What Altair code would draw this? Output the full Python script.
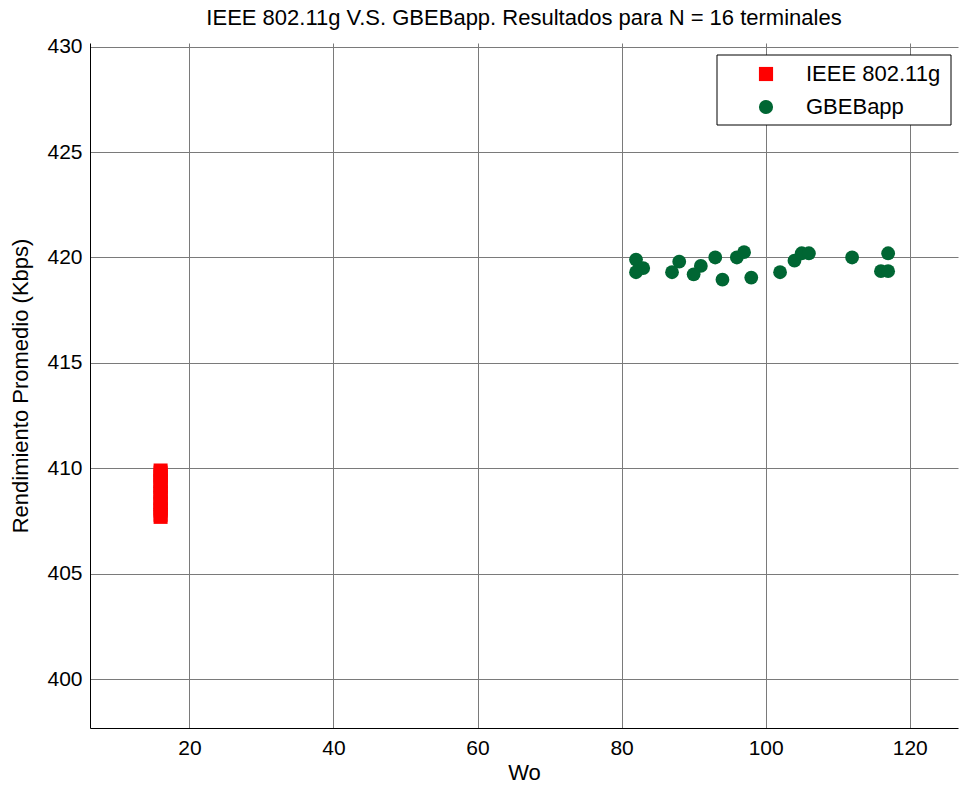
import altair as alt
import pandas as pd

# IEEE 802.11g: stacked squares at Wo = 16
ieee_wo = [16] * 16
ieee_rend = [409.9, 409.4, 409.7, 408.6, 409.1, 407.8, 408.3, 409.6,
             408.0, 408.9, 407.7, 409.2, 408.4, 408.1, 408.8, 409.8]

# GBEBapp points
gbe_wo = [82, 83, 82, 88, 87, 91, 90, 93, 94, 96, 97, 98, 102, 104, 105, 106, 112, 117, 116, 117]
gbe_rend = [419.9, 419.5, 419.3, 419.8, 419.3, 419.6, 419.2, 420.0, 418.95, 420.0,
            420.25, 419.05, 419.3, 419.85, 420.2, 420.2, 420.0, 420.2, 419.35, 419.35]

x_ticks = [20, 40, 60, 80, 100, 120]
y_ticks = [400, 405, 410, 415, 420, 425, 430]

series_names = ["IEEE 802.11g", "GBEBapp"]
series_colors = ["#FF0000", "#006633"]
series_shapes = ["square", "circle"]

df = pd.DataFrame({
    "Wo": ieee_wo + gbe_wo,
    "Rend": ieee_rend + gbe_rend,
    "Serie": [series_names[0]] * len(ieee_wo) + [series_names[1]] * len(gbe_wo),
    "Size": [196] * len(ieee_wo) + [190] * len(gbe_wo),
})

FONT = "Liberation Sans"
FS = 22
FS_TICK = 21

x_enc = alt.X("Wo:Q", title="Wo",
              scale=alt.Scale(domain=[6.2, 126.7], nice=False, zero=False),
              axis=alt.Axis(values=x_ticks, grid=True, ticks=False, labelPadding=9,
                            titlePadding=4, domainColor="#000000"))
y_enc = alt.Y("Rend:Q", title="Rendimiento Promedio (Kbps)",
              scale=alt.Scale(domain=[397.69, 430.17], nice=False, zero=False),
              axis=alt.Axis(values=y_ticks, grid=True, ticks=False, labelPadding=8,
                            titlePadding=14, domainColor="#000000"))

points = alt.Chart(df).mark_point(filled=True, opacity=1, strokeWidth=0).encode(
    x=x_enc,
    y=y_enc,
    color=alt.Color("Serie:N",
                    scale=alt.Scale(domain=series_names, range=series_colors),
                    legend=alt.Legend(title=None, orient="none", legendX=665, legendY=20,
                                      labelFontSize=FS, labelFont=FONT, labelColor="#000000",
                                      labelOffset=29, rowPadding=11, padding=0,
                                      symbolSize=200, symbolStrokeWidth=0)),
    shape=alt.Shape("Serie:N",
                    scale=alt.Scale(domain=series_names, range=series_shapes),
                    legend=None),
    size=alt.Size("Size:Q", scale=None, legend=None),
)

frame = alt.Chart(pd.DataFrame({"k": [0]})).mark_rect(
    fill="white", stroke="black", strokeWidth=1
).encode(x=alt.value(627), x2=alt.value(861), y=alt.value(12), y2=alt.value(82))

chart = alt.layer(points, frame).properties(
    width=868, height=685,
    background="white",
    autosize=alt.AutoSizeParams(type="none"),
    padding={"left": 90, "top": 43, "right": 1, "bottom": 63},
    title=alt.TitleParams("IEEE 802.11g V.S. GBEBapp. Resultados para N = 16 terminales",
                          fontSize=FS, font=FONT, fontWeight="normal", color="#000000",
                          anchor="middle", offset=6),
).configure_view(stroke=None).configure_axis(
    labelFont=FONT, labelFontSize=FS_TICK, labelColor="#000000",
    titleFont=FONT, titleFontSize=FS, titleFontWeight="normal", titleColor="#000000",
    gridColor="#7a7a7a", gridWidth=1, gridOpacity=1, domainWidth=1,
)

chart.save("out.html", embed_options={"renderer": "svg", "actions": False})
